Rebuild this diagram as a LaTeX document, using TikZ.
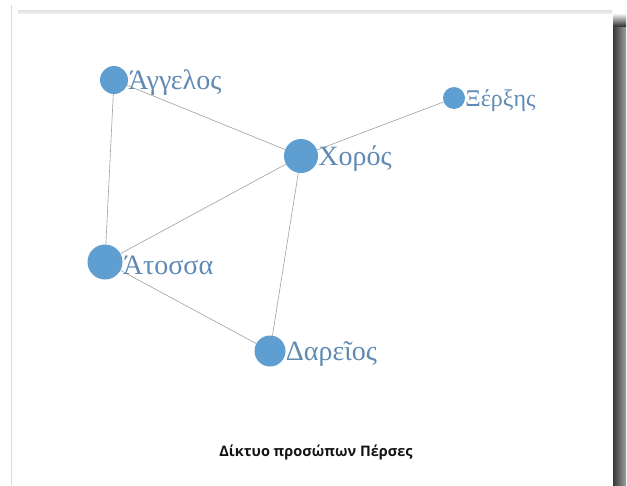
\documentclass[tikz,border=0pt]{standalone}
\usepackage{fontspec}
\setmainfont{Liberation Serif}
\newfontfamily\titlefont{Open Sans}
\usepackage{tikz}
\usetikzlibrary{backgrounds}

\definecolor{nodeblue}{RGB}{94,158,208}
\definecolor{labelblue}{RGB}{96,138,180}
\definecolor{edgegray}{RGB}{160,160,160}

\begin{document}
\begin{tikzpicture}[x = 1pt, y = -1pt,
	person/.style={circle, fill = nodeblue, inner sep = 0pt, label distance = 1pt},
	rolename/.style={text = labelblue, font = \fontsize{28}{28}\selectfont, inner sep = 0pt, yshift = -3pt},
	link/.style={draw = edgegray, line width = 0.6pt}]
	
	\useasboundingbox (0,0) rectangle (627,485);
	
	% frame and shadow
	\begin{scope}[on background layer]
		\draw[black!15, line width = 0.8pt] (11,5) -- (11,485);
		\shade[top color = black!12, bottom color = white] (18,10) rectangle (612,17);
		\fill[white] (13,14) rectangle (613,485);
		\shade[left color = black!78, right color = black!38] (613,26) rectangle (626,485);
		\shade[top color = white, bottom color = black!78] (613,13) rectangle (626,26);
	\end{scope}
	
	\node[person, minimum size = 28pt, label = {[rolename, name = l-angelos]right:Άγγελος}] (angelos) at (114,80) {};
	\node[person, minimum size = 22pt, label = {[rolename, name = l-xerxes, font = \fontsize{24}{24}\selectfont]right:Ξέρξης}] (xerxes) at (454,98) {};
	\node[person, minimum size = 34pt, label = {[rolename, name = l-choros]right:Χορός}] (choros) at (301,156) {};
	\node[person, minimum size = 35pt, label = {[rolename, name = l-atossa]right:Άτοσσα}] (atossa) at (105,262) {};
	\node[person, minimum size = 31pt, label = {[rolename, name = l-dareios]right:Δαρεῖος}] (dareios) at (270,351) {};
	
	\node[font = \titlefont\bfseries\fontsize{14.5}{14.5}\selectfont, text = black!92] (title) at (316,452) {Δίκτυο προσώπων Πέρσες};
	
	\begin{scope}[on background layer]
		\draw[link] (angelos) -- (choros);
		\draw[link] (angelos) -- (atossa);
		\draw[link] (choros) -- (xerxes);
		\draw[link] (choros) -- (atossa);
		\draw[link] (choros) -- (dareios);
		\draw[link] (atossa) -- (dareios);
	\end{scope}
\end{tikzpicture}
\end{document}
